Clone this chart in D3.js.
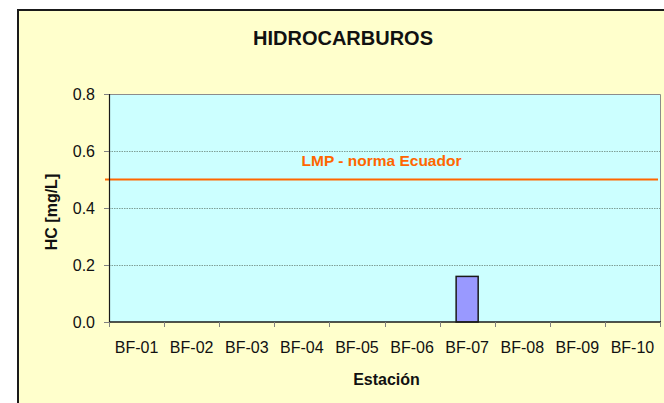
<!DOCTYPE html>
<html>
<head>
<meta charset="utf-8">
<script src="https://cdn.jsdelivr.net/npm/d3@7"></script>
<style>
  html, body { margin: 0; padding: 0; background: #ffffff; }
  svg { display: block; font-family: "Liberation Sans", Arial, sans-serif; }
</style>
</head>
<body>
<svg id="chart" width="664" height="403"></svg>
<script>
// Stations sampled and the hydrocarbon concentration measured at each (mg/L)
const stations = ["BF-01", "BF-02", "BF-03", "BF-04", "BF-05", "BF-06", "BF-07", "BF-08", "BF-09", "BF-10"];
const hcValues = [0, 0, 0, 0, 0, 0, 0.16, 0, 0, 0];
const yTicks = [0.0, 0.2, 0.4, 0.6, 0.8];
// Maximum permissible limit (Ecuador regulation)
const lmpValue = 0.5;
const lmpLabel = "LMP - norma Ecuador";

const svg = d3.select("#chart");

// Chart area (pale yellow panel with dark frame)
svg.append("rect")
  .attr("x", 18).attr("y", 10)
  .attr("width", 700).attr("height", 420)
  .attr("fill", "#FFFFCC")
  .attr("stroke", "#1a1a1a").attr("stroke-width", 2);

const plot = { left: 109, right: 660, top: 94, bottom: 322 };

const xBand = d3.scaleBand().domain(stations).range([plot.left, plot.right]);
const y = d3.scaleLinear().domain([0, 0.8]).range([plot.bottom, plot.top]);

// Plot area background
svg.append("rect")
  .attr("x", plot.left).attr("y", plot.top)
  .attr("width", plot.right - plot.left).attr("height", plot.bottom - plot.top)
  .attr("fill", "#CCFFFF");

// Dotted horizontal gridlines
svg.append("g")
  .selectAll("line")
  .data(yTicks.filter(v => v > 0 && v < 0.8))
  .join("line")
  .attr("x1", plot.left).attr("x2", plot.right)
  .attr("y1", d => Math.round(y(d)) + 0.5).attr("y2", d => Math.round(y(d)) + 0.5)
  .attr("stroke", "#7f9f96").attr("stroke-width", 1)
  .attr("stroke-dasharray", "1.5,1");

// Plot frame (top and right edges)
svg.append("path")
  .attr("d", `M${plot.left},${plot.top + 0.5}H${plot.right + 0.5}V${plot.bottom}`)
  .attr("fill", "none").attr("stroke", "#8c8c8c").attr("stroke-width", 1);

// Bars (width = band / 2.5, i.e. 150% gap)
svg.append("g")
  .selectAll("rect")
  .data(stations.map((s, i) => ({ s, v: hcValues[i] })).filter(d => d.v > 0))
  .join("rect")
  .attr("x", d => xBand(d.s) + (xBand.bandwidth() - xBand.bandwidth() / 2.5) / 2)
  .attr("width", xBand.bandwidth() / 2.5)
  .attr("y", d => y(d.v))
  .attr("height", d => y(0) - y(d.v))
  .attr("fill", "#9999FF")
  .attr("stroke", "#1a1a1a").attr("stroke-width", 1.5);

// Limit line and label
svg.append("line")
  .attr("x1", plot.left - 4).attr("x2", plot.right - 2)
  .attr("y1", y(lmpValue)).attr("y2", y(lmpValue))
  .attr("stroke", "#FF6600").attr("stroke-width", 2);
svg.append("text")
  .attr("x", (plot.left + plot.right) / 2 - 3)
  .attr("y", 166)
  .attr("text-anchor", "middle")
  .attr("font-size", "15.5px").attr("font-weight", "bold")
  .attr("fill", "#FF6600")
  .text(lmpLabel);

// Y axis
const yAxis = svg.append("g")
  .attr("transform", `translate(${plot.left},0)`)
  .call(d3.axisLeft(y).tickValues(yTicks).tickFormat(d3.format(".1f")).tickSize(5).tickPadding(9));
yAxis.select(".domain").attr("stroke", "#1a1a1a").attr("stroke-width", 1.2);
yAxis.selectAll(".tick line").attr("stroke", "#808080");
yAxis.selectAll(".tick text")
  .attr("font-size", "16px").attr("fill", "#111")
  .attr("font-family", "Liberation Sans, Arial, sans-serif");

// X axis: ticks at category boundaries, labels centred under each station
const xAxis = svg.append("g")
  .attr("transform", `translate(0,${plot.bottom})`);
xAxis.append("line")
  .attr("x1", plot.left).attr("x2", plot.right + 1)
  .attr("y1", 0).attr("y2", 0)
  .attr("stroke", "#1a1a1a").attr("stroke-width", 1.5);
const boundaries = stations.map(s => xBand(s)).concat([plot.right]);
xAxis.selectAll("line.tick")
  .data(boundaries)
  .join("line")
  .attr("class", "tick")
  .attr("x1", d => Math.round(d) + 0.5).attr("x2", d => Math.round(d) + 0.5)
  .attr("y1", 0).attr("y2", 5)
  .attr("stroke", "#808080");
xAxis.selectAll("text")
  .data(stations)
  .join("text")
  .attr("x", d => xBand(d) + xBand.bandwidth() / 2)
  .attr("y", 31)
  .attr("text-anchor", "middle")
  .attr("font-size", "16px").attr("fill", "#111")
  .text(d => d);

// Titles
svg.append("text")
  .attr("x", 343).attr("y", 45)
  .attr("text-anchor", "middle")
  .attr("font-size", "20px").attr("font-weight", "bold").attr("fill", "#111")
  .text("HIDROCARBUROS");

svg.append("text")
  .attr("x", (plot.left + plot.right) / 2 + 2).attr("y", 385)
  .attr("text-anchor", "middle")
  .attr("font-size", "16px").attr("font-weight", "bold").attr("fill", "#111")
  .text("Estación");

svg.append("text")
  .attr("transform", `translate(57,212) rotate(-90)`)
  .attr("text-anchor", "middle")
  .attr("font-size", "16px").attr("font-weight", "bold").attr("fill", "#111")
  .text("HC [mg/L]");
</script>
</body>
</html>
